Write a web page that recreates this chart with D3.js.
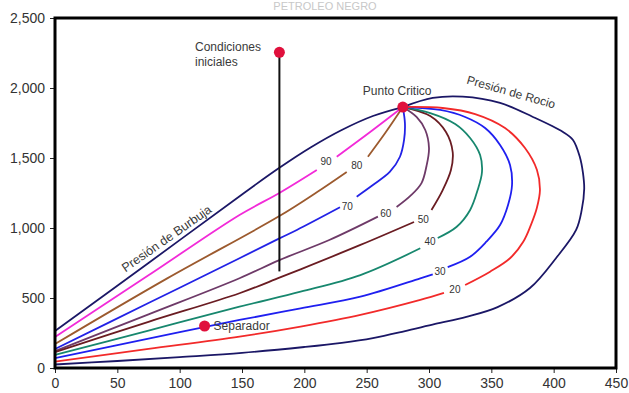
<!DOCTYPE html>
<html>
<head>
<meta charset="utf-8">
<script src="https://cdn.jsdelivr.net/npm/d3@7"></script>
<style>
  body { margin: 0; background: #fff; }
  svg { display: block; font-family: "Liberation Sans", Arial, sans-serif; }
  .tick text { fill: #333; font-size: 14px; }
  .tick line { stroke: #222; }
  .note { fill: #3a3a3a; font-size: 12px; }
  .qlabel { fill: #333; font-size: 10px; }
</style>
</head>
<body>
<div id="chart"></div>
<script>
// Chart size
var svgWidth = 629;
var svgHeight = 393;
var margin = { t: 18, r: 13, b: 25, l: 55 };

// Axis ticks
var xTicks = [0, 50, 100, 150, 200, 250, 300, 350, 400, 450];
var yTicks = [0, 500, 1000, 1500, 2000, 2500];

// Envelope: bubble point and dew point curves [temperature, pressure]
var burbuja = [[0, 265], [75, 750], [150, 1240], [180, 1430], [205, 1575], [230, 1700], [255, 1800], [279, 1864]];
var rocio = [[0, 25], [50, 50], [100, 78], [150, 108], [200, 150], [230, 180], [255, 214], [280, 262], [305, 315],
  [330, 365], [355, 435], [381, 571], [402, 786], [418, 986], [422.5, 1129], [424.5, 1280], [423.5, 1393], [421, 1507],
  [415.5, 1629], [407.5, 1686], [383, 1795], [357, 1893], [327, 1938], [303, 1929], [279, 1864]];

// Quality lines (% liquid); null = break where the label sits
var q90 = [[0, 221], [75, 662], [148, 1093], [180, 1250], [210, 1414], null, [226, 1509], [252, 1680], [279, 1864]];
var q80 = [[0, 171], [90, 640], [180, 1085], [210, 1255], [234, 1400], null, [251, 1509], [265, 1680], [279, 1864]];
var q70 = [[0, 136], [75, 464], [148, 784], [180, 926], [194, 986], [228.6, 1148], null, [242, 1224], [255, 1307],
  [268.7, 1402], [276.7, 1509], [280, 1629], [280.7, 1748], [279, 1864]];
var q60 = [[0, 121], [75, 383], [148, 641], [180, 771], [220, 914], [259, 1081], null, [274, 1150], [285, 1229],
  [294, 1321], [298, 1443], [300, 1571], [297, 1700], [290, 1793], [279, 1864]];
var q50 = [[0, 114], [75, 330], [148, 534], [180, 645], [197, 705], [245, 879], [288, 1043], null, [302, 1129],
  [311, 1271], [317.6, 1414], [319, 1543], [313.6, 1686], [301, 1800], [279, 1864]];
var q40 = [[0, 93], [75, 267], [148, 438], [197, 545], [245, 664], [293, 855], null, [307, 929], [322, 1007],
  [333, 1129], [339, 1271], [342.5, 1400], [341, 1521], [333, 1643], [321, 1743], [301, 1821], [279, 1864]];
var q30 = [[0, 71], [75, 210], [148, 343], [197, 426], [245, 509], [293, 640], [303, 668], null, [315, 721],
  [333, 795], [346, 902], [357, 1021], [363.4, 1164], [366.6, 1307], [365, 1450], [357, 1593], [345, 1714],
  [329, 1793], [309, 1843], [279, 1864]];
var q20 = [[0, 46], [75, 136], [148, 224], [197, 296], [245, 379], [293, 486], [312, 536], null, [329, 593],
  [349, 688], [365, 784], [375.6, 902], [381.7, 1021], [386.5, 1143], [389, 1271], [386.6, 1414], [377, 1571],
  [361, 1714], [337, 1814], [311, 1857], [279, 1864]];

var qualities = [90, 80, 70, 60, 50, 40, 30, 20];
var qualityLines = [q90, q80, q70, q60, q50, q40, q30, q20];
var qualityColors = ["#f22ad8", "#9c5a2e", "#2222e6", "#6e3a68", "#6a1c22", "#17876e", "#1f1ff0", "#f22a2a"];
var qualityLabelX = [217.4, 242, 234.5, 265.3, 295.4, 300.8, 308.8, 320.8];
var qualityLabelY = [1474, 1443, 1157, 1105, 1064, 902, 690, 562];

// Marked points
var pointNames = ["Condiciones iniciales", "Punto Critico", "Separador"];
var pointX = [180, 279, 120];
var pointY = [2255, 1864, 300];

// Isothermal depletion from initial conditions
var depletionX = [180, 180];
var depletionY = [2255, 690];

var svg = d3.select("#chart").append("svg")
    .attr("width", svgWidth)
    .attr("height", svgHeight);

var xScale = d3.scaleLinear().domain([0, 450]).range([margin.l, svgWidth - margin.r]);
var yScale = d3.scaleLinear().domain([0, 2500]).range([svgHeight - margin.b, margin.t]);

// Faint title at the very top
svg.append("text")
    .attr("x", 325)
    .attr("y", 10)
    .attr("text-anchor", "middle")
    .style("font-size", "11px")
    .style("fill", "#c8c8c8")
    .text("PETROLEO NEGRO");

// Axes
svg.append("g")
    .attr("transform", `translate(0, ${svgHeight - margin.b})`)
    .call(d3.axisBottom(xScale).tickValues(xTicks).tickSize(5).tickSizeOuter(0).tickPadding(5))
    .call(g => g.select(".domain").remove());

svg.append("g")
    .attr("transform", `translate(${margin.l}, 0)`)
    .call(d3.axisLeft(yScale).tickValues(yTicks).tickFormat(d3.format(",")).tickSize(5).tickSizeOuter(0).tickPadding(5))
    .call(g => g.select(".domain").remove());

var line = d3.line()
    .defined(d => d)
    .x(d => xScale(d[0]))
    .y(d => yScale(d[1]))
    .curve(d3.curveCatmullRom.alpha(0.5));

// Quality lines
qualityLines.forEach(function (pts, i) {
    svg.append("path")
        .datum(pts)
        .attr("d", line)
        .attr("fill", "none")
        .attr("stroke", qualityColors[i])
        .attr("stroke-width", 1.8);
});

// Envelope
[burbuja, rocio].forEach(function (pts) {
    svg.append("path")
        .datum(pts)
        .attr("d", line)
        .attr("fill", "none")
        .attr("stroke", "#1b1766")
        .attr("stroke-width", 1.8);
});

// Quality labels
svg.selectAll(".qlabel")
    .data(qualities)
    .enter()
    .append("text")
    .attr("class", "qlabel")
    .attr("x", (d, i) => xScale(qualityLabelX[i]))
    .attr("y", (d, i) => yScale(qualityLabelY[i]))
    .attr("dy", "0.35em")
    .attr("text-anchor", "middle")
    .text(d => d);

// Depletion path
svg.append("line")
    .attr("x1", xScale(depletionX[0]))
    .attr("y1", yScale(depletionY[0]))
    .attr("x2", xScale(depletionX[1]))
    .attr("y2", yScale(depletionY[1]))
    .attr("stroke", "#111")
    .attr("stroke-width", 2);

// Frame
svg.append("rect")
    .attr("x", xScale(0))
    .attr("y", yScale(2500))
    .attr("width", xScale(450) - xScale(0))
    .attr("height", yScale(0) - yScale(2500))
    .attr("fill", "none")
    .attr("stroke", "#000")
    .attr("stroke-width", 3);

// Points
svg.selectAll(".pt")
    .data(pointNames)
    .enter()
    .append("circle")
    .attr("class", "pt")
    .attr("cx", (d, i) => xScale(pointX[i]))
    .attr("cy", (d, i) => yScale(pointY[i]))
    .attr("r", 5.5)
    .attr("fill", "#e0103c");

// Annotations
var cond = svg.append("text")
    .attr("class", "note")
    .attr("x", 195)
    .attr("y", 51);
cond.append("tspan").text("Condiciones");
cond.append("tspan").attr("x", 195).attr("dy", 15).text("iniciales");

svg.append("text")
    .attr("class", "note")
    .attr("x", xScale(pointX[1]) - 40)
    .attr("y", 95)
    .text(pointNames[1]);

svg.append("text")
    .attr("class", "note")
    .attr("x", xScale(pointX[2]) + 9)
    .attr("y", yScale(pointY[2]) + 4)
    .text(pointNames[2]);

svg.append("text")
    .attr("class", "note")
    .attr("text-anchor", "middle")
    .attr("transform", "translate(510, 96) rotate(16)")
    .text("Presión de Rocio");

svg.append("text")
    .attr("class", "note")
    .style("font-size", "12.5px")
    .attr("text-anchor", "middle")
    .attr("transform", "translate(169, 242) rotate(-35)")
    .text("Presión de Burbuja");
</script>
</body>
</html>
